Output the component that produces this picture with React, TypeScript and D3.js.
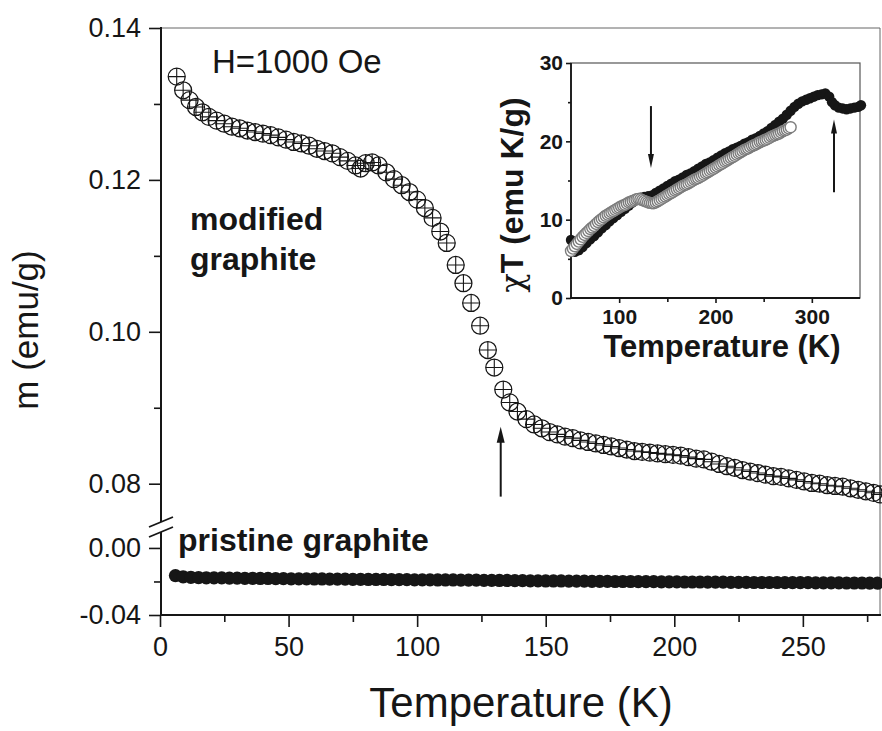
import React, { useEffect, useRef } from 'react';
import * as d3 from 'd3';

// modified graphite, m (emu/g) vs T (K)
const modifiedData: [number, number][] = [
  [6.5, 0.1336], [9, 0.1318], [11.5, 0.1305], [14, 0.1296], [16.5, 0.1289], [19, 0.1283],
  [22, 0.1278], [25, 0.1274], [28, 0.127], [31, 0.1268], [34, 0.1265], [37, 0.1263],
  [40, 0.1261], [43, 0.1259], [46, 0.1256], [49, 0.1253], [52, 0.125], [55, 0.1248],
  [58, 0.1245], [61, 0.1241], [64, 0.1238], [67, 0.1235], [70, 0.123], [73, 0.1225],
  [76, 0.1219], [78, 0.1215], [80, 0.1222], [82.5, 0.1223], [85, 0.1219], [88, 0.121],
  [91, 0.1201], [94, 0.1193], [97, 0.1184], [100, 0.1174], [103, 0.1163], [106, 0.115],
  [109, 0.1132], [111.5, 0.1117], [115, 0.1088], [118, 0.1064], [121, 0.1038], [124.5, 0.1008],
  [127.5, 0.0976], [130, 0.0953], [133.5, 0.0924], [136, 0.0907], [139, 0.0895], [142.5, 0.0885],
  [145.5, 0.0878], [148.5, 0.0873], [151.5, 0.0868], [154.5, 0.0865], [157.5, 0.0862], [160.5, 0.086],
  [163.5, 0.0857], [166.5, 0.0855], [169.5, 0.0853], [172.5, 0.0851], [175.5, 0.0849], [178.5, 0.0847],
  [181.5, 0.0845], [184.5, 0.0843], [187.5, 0.0842], [190.5, 0.0841], [193.5, 0.084], [196.5, 0.0839],
  [199.5, 0.0838], [202.5, 0.0837], [205.5, 0.0835], [208.5, 0.0833], [211.5, 0.0832], [214.5, 0.0829],
  [217.5, 0.0826], [220.5, 0.0823], [223.5, 0.0821], [226.5, 0.0818], [229.5, 0.0816], [232.5, 0.0814],
  [235.5, 0.0812], [238.5, 0.081], [241.5, 0.0809], [244.5, 0.0807], [247.5, 0.0805], [250.5, 0.0803],
  [253.5, 0.0801], [256.5, 0.08], [259.5, 0.0798], [262.5, 0.0797], [265.5, 0.0796], [268.5, 0.0794],
  [271.5, 0.0792], [274.5, 0.079], [277.5, 0.0788], [280, 0.0786],
];

// pristine graphite
const pristineData: [number, number][] = [
  [6, -0.0165], [9, -0.0172], [12, -0.0175], [15, -0.0177], [18, -0.0178], [21, -0.0179],
  [24, -0.0179], [27, -0.018], [30, -0.018], [33, -0.0181], [36, -0.0181], [39, -0.0182],
  [42, -0.0182], [45, -0.0183], [48, -0.0183], [51, -0.0184], [54, -0.0184], [57, -0.0184],
  [60, -0.0185], [63, -0.0185], [66, -0.0186], [69, -0.0186], [72, -0.0186], [75, -0.0187],
  [78, -0.0187], [81, -0.0188], [84, -0.0188], [87, -0.0188], [90, -0.0189], [93, -0.0189],
  [96, -0.0189], [99, -0.019], [102, -0.019], [105, -0.019], [108, -0.0191], [111, -0.0191],
  [114, -0.0191], [117, -0.0192], [120, -0.0192], [123, -0.0192], [126, -0.0193], [129, -0.0193],
  [132, -0.0194], [135, -0.0194], [138, -0.0195], [141, -0.0195], [144, -0.0196], [147, -0.0196],
  [150, -0.0197], [153, -0.0197], [156, -0.0197], [159, -0.0198], [162, -0.0198], [165, -0.0198],
  [168, -0.0199], [171, -0.0199], [174, -0.0199], [177, -0.02], [180, -0.02], [183, -0.02],
  [186, -0.0201], [189, -0.0201], [192, -0.0201], [195, -0.0202], [198, -0.0202], [201, -0.0202],
  [204, -0.0203], [207, -0.0203], [210, -0.0203], [213, -0.0204], [216, -0.0204], [219, -0.0204],
  [222, -0.0205], [225, -0.0205], [228, -0.0205], [231, -0.0206], [234, -0.0206], [237, -0.0206],
  [240, -0.0206], [243, -0.0207], [246, -0.0207], [249, -0.0207], [252, -0.0207], [255, -0.0208],
  [258, -0.0208], [261, -0.0208], [264, -0.0208], [267, -0.0209], [270, -0.0209], [273, -0.0209],
  [276, -0.021], [279, -0.021],
];

// inset: chi*T, open (grey) circles
const insetOpenData: [number, number][] = [
  [50, 6.0], [52, 6.3], [54, 6.6], [56, 6.9], [58, 7.2], [60, 7.5], [62, 7.8], [64, 8.05],
  [66, 8.3], [68, 8.55], [70, 8.8], [72, 9.0], [74, 9.2], [76, 9.45], [78, 9.7], [80, 9.9],
  [82, 10.1], [84, 10.3], [86, 10.5], [88, 10.65], [90, 10.8], [92, 10.95], [94, 11.1], [96, 11.25],
  [98, 11.4], [100, 11.55], [102, 11.7], [104, 11.8], [106, 11.9], [108, 12.05], [110, 12.2], [112, 12.3],
  [114, 12.4], [116, 12.5], [118, 12.6], [120, 12.65], [122, 12.6], [124, 12.5], [126, 12.4], [128, 12.3],
  [130, 12.2], [132, 12.15], [134, 12.1], [136, 12.1], [138, 12.2], [140, 12.35], [142, 12.5], [144, 12.65],
  [146, 12.8], [148, 12.95], [150, 13.1], [152, 13.25], [154, 13.4], [156, 13.55], [158, 13.7], [160, 13.85],
  [162, 14.0], [164, 14.15], [166, 14.3], [168, 14.4], [170, 14.5], [172, 14.65], [174, 14.8], [176, 14.95],
  [178, 15.1], [180, 15.2], [182, 15.3], [184, 15.45], [186, 15.6], [188, 15.75], [190, 15.9], [192, 16.05],
  [194, 16.2], [196, 16.35], [198, 16.5], [200, 16.65], [202, 16.8], [204, 16.95], [206, 17.1], [208, 17.25],
  [210, 17.4], [212, 17.55], [214, 17.7], [216, 17.85], [218, 18.0], [220, 18.15], [222, 18.3], [224, 18.45],
  [226, 18.6], [228, 18.75], [230, 18.9], [232, 19.0], [234, 19.1], [236, 19.25], [238, 19.4], [240, 19.5],
  [242, 19.6], [244, 19.75], [246, 19.9], [248, 20.0], [250, 20.1], [252, 20.2], [254, 20.3], [256, 20.45],
  [258, 20.6], [260, 20.7], [262, 20.8], [264, 20.9], [266, 21.0], [268, 21.15], [270, 21.3], [272, 21.4],
  [274, 21.5], [276, 21.65], [278, 21.8],
];

// inset: chi*T, filled black
const insetFilledData: [number, number][] = [
  [50, 7.4], [52, 6.5], [54, 5.9], [58, 6.1], [62, 6.5], [66, 7.0], [70, 7.5], [74, 7.9],
  [78, 8.4], [82, 8.9], [86, 9.3], [90, 9.8], [94, 10.2], [98, 10.6], [102, 11.0], [106, 11.4],
  [110, 11.8], [114, 12.2], [118, 12.6], [122, 12.8], [126, 12.9], [130, 13.0], [134, 13.1], [138, 13.4],
  [142, 13.7], [146, 14.0], [150, 14.3], [154, 14.6], [158, 14.9], [162, 15.1], [166, 15.4], [170, 15.7],
  [174, 15.9], [178, 16.2], [182, 16.5], [186, 16.8], [190, 17.1], [194, 17.3], [198, 17.6], [202, 17.9],
  [206, 18.2], [210, 18.5], [214, 18.7], [218, 19.0], [222, 19.2], [226, 19.4], [230, 19.7], [234, 19.9],
  [238, 20.2], [242, 20.4], [246, 20.7], [250, 21.0], [254, 21.3], [258, 21.7], [262, 22.1], [266, 22.5],
  [270, 22.9], [274, 23.4], [278, 23.9], [282, 24.4], [286, 24.8], [290, 25.1], [294, 25.3], [298, 25.5],
  [302, 25.7], [306, 25.9], [310, 26.0], [314, 26.1], [318, 25.7], [321, 25.0], [324, 24.6], [328, 24.3],
  [332, 24.2], [336, 24.1], [340, 24.2], [344, 24.3], [348, 24.4], [351, 24.6],
];

const xTicks = [0, 50, 100, 150, 200, 250];
const xMinorTicks = [25, 75, 125, 175, 225, 275];
const yTicksUpper = [0.08, 0.1, 0.12, 0.14];
const yMinorUpper = [0.09, 0.11, 0.13];
const yTicksLower = [-0.04, 0.0];
const yMinorLower = [-0.02];

const insetXTicks = [100, 200, 300];
const insetXMinor = [150, 250];
const insetYTicks = [0, 10, 20, 30];
const insetYMinor = [5, 15, 25];

// arrows: [T, tail value, tip value]
const mainArrow = [132.5, 0.0783, 0.0875];
const insetArrows = [[133, 24.5, 16.6], [323, 13.5, 22.8]];

const FONT = '"Liberation Sans", Arial, Helvetica, sans-serif';
const INK = '#161616';

const App = () => {
  const ref = useRef<SVGSVGElement | null>(null);

  useEffect(() => {
    const svg = d3.select(ref.current);
    svg.selectAll('*').remove();

    // main plot scales (broken y axis)
    const x = d3.scaleLinear().domain([0, 280]).range([160, 880]);
    const yUp = d3.scaleLinear().domain([0.0743, 0.14]).range([527, 28]);
    const yLow = d3.scaleLinear().domain([-0.04, 0.0125]).range([615, 527]);

    const styleAxis = (g: any, size: number) => {
      g.select('.domain').remove();
      g.selectAll('line').attr('stroke', INK).attr('stroke-width', 1.6);
      g.selectAll('text').attr('fill', INK).style('font-family', FONT).style('font-size', size + 'px');
    };
    const fmt = (d: any) => (+d).toFixed(2);

    // frame
    svg.append('line').attr('x1', 160).attr('x2', 880).attr('y1', 28).attr('y2', 28)
      .attr('stroke', '#666').attr('stroke-width', 1);
    svg.append('line').attr('x1', 880).attr('x2', 880).attr('y1', 28).attr('y2', 615)
      .attr('stroke', '#666').attr('stroke-width', 1);

    // y axes
    svg.append('g').attr('transform', 'translate(161,0)')
      .call(d3.axisLeft(yUp).tickValues(yTicksUpper).tickSize(12).tickPadding(8).tickFormat(fmt))
      .call((g: any) => styleAxis(g, 27));
    svg.append('g').attr('transform', 'translate(161,0)')
      .call(d3.axisLeft(yUp).tickValues(yMinorUpper).tickSize(7).tickFormat(() => ''))
      .call((g: any) => styleAxis(g, 27));
    svg.append('g').attr('transform', 'translate(161,0)')
      .call(d3.axisLeft(yLow).tickValues(yTicksLower).tickSize(12).tickPadding(8).tickFormat(fmt))
      .call((g: any) => styleAxis(g, 27));
    svg.append('g').attr('transform', 'translate(161,0)')
      .call(d3.axisLeft(yLow).tickValues(yMinorLower).tickSize(7).tickFormat(() => ''))
      .call((g: any) => styleAxis(g, 27));

    // x axis
    svg.append('g').attr('transform', 'translate(0,615)')
      .call(d3.axisBottom(x).tickValues(xTicks).tickSize(12).tickPadding(10).tickFormat(d3.format('d')))
      .call((g: any) => styleAxis(g, 27));
    svg.append('g').attr('transform', 'translate(0,615)')
      .call(d3.axisBottom(x).tickValues(xMinorTicks).tickSize(7).tickFormat(() => ''))
      .call((g: any) => styleAxis(g, 27));

    svg.append('line').attr('x1', 161).attr('x2', 161).attr('y1', 27).attr('y2', 616)
      .attr('stroke', INK).attr('stroke-width', 2);
    svg.append('line').attr('x1', 160).attr('x2', 881).attr('y1', 615).attr('y2', 615)
      .attr('stroke', INK).attr('stroke-width', 2);

    // axis break
    svg.append('path').attr('d', 'M149,527 L173,517 L173,527 L149,537 Z').attr('fill', 'white');
    svg.append('line').attr('x1', 149).attr('y1', 527).attr('x2', 173).attr('y2', 517)
      .attr('stroke', INK).attr('stroke-width', 1.8);
    svg.append('line').attr('x1', 149).attr('y1', 537).attr('x2', 173).attr('y2', 527)
      .attr('stroke', INK).attr('stroke-width', 1.8);

    // pristine graphite
    svg.append('g').selectAll('circle').data(pristineData).enter().append('circle')
      .attr('cx', d => x(d[0])).attr('cy', d => yLow(d[1])).attr('r', 6.6).attr('fill', INK);

    // modified graphite (crossed circles)
    const r = 8.5;
    const mg = svg.append('g').selectAll('g').data(modifiedData).enter().append('g')
      .attr('transform', d => `translate(${x(d[0])},${yUp(d[1])})`);
    mg.append('circle').attr('r', r).attr('fill', 'none').attr('stroke', INK).attr('stroke-width', 1.25);
    mg.append('path').attr('d', `M${-r},0H${r}M0,${-r}V${r}`).attr('stroke', INK).attr('stroke-width', 1.1);

    // arrow helper
    const arrow = (xp: number, y1: number, y2: number, w: number, len: number) => {
      const dir = y2 < y1 ? 1 : -1;
      svg.append('line').attr('x1', xp).attr('x2', xp).attr('y1', y1).attr('y2', y2 + dir * len * 0.8)
        .attr('stroke', INK).attr('stroke-width', 2);
      svg.append('path')
        .attr('d', `M${xp},${y2} L${xp - w / 2},${y2 + dir * len} L${xp + w / 2},${y2 + dir * len} Z`)
        .attr('fill', INK);
    };
    arrow(x(mainArrow[0]), yUp(mainArrow[1]), yUp(mainArrow[2]), 8, 16);

    // labels
    svg.append('text').attr('x', 212).attr('y', 73).text('H=1000 Oe')
      .style('font-family', FONT).style('font-size', '33px').attr('fill', INK);
    svg.append('text').attr('x', 190).attr('y', 230).text('modified')
      .style('font-family', FONT).style('font-size', '32px').style('font-weight', 'bold').attr('fill', INK);
    svg.append('text').attr('x', 190).attr('y', 270).text('graphite')
      .style('font-family', FONT).style('font-size', '32px').style('font-weight', 'bold').attr('fill', INK);
    svg.append('text').attr('x', 178).attr('y', 551).text('pristine graphite')
      .style('font-family', FONT).style('font-size', '32px').style('font-weight', 'bold').attr('fill', INK);

    svg.append('text').attr('transform', 'translate(38,330) rotate(-90)').attr('text-anchor', 'middle')
      .text('m (emu/g)').style('font-family', FONT).style('font-size', '35px').attr('fill', INK);
    svg.append('text').attr('x', 521).attr('y', 717).attr('text-anchor', 'middle')
      .text('Temperature (K)').style('font-family', FONT).style('font-size', '42px').attr('fill', INK);

    // ---------- inset ----------
    const xi = d3.scaleLinear().domain([50, 350]).range([571, 860]);
    const yi = d3.scaleLinear().domain([0, 30]).range([298, 63]);

    svg.append('rect').attr('x', 571).attr('y', 63).attr('width', 289).attr('height', 235)
      .attr('fill', 'none').attr('stroke', '#555').attr('stroke-width', 1.2);

    const ix = svg.append('g').attr('transform', 'translate(0,298)')
      .call(d3.axisBottom(xi).tickValues(insetXTicks).tickSize(5).tickPadding(6).tickFormat(d3.format('d')))
      .call((g: any) => styleAxis(g, 21));
    ix.selectAll('text').style('font-weight', 'bold');
    svg.append('g').attr('transform', 'translate(0,298)')
      .call(d3.axisBottom(xi).tickValues(insetXMinor).tickSize(4).tickFormat(() => ''))
      .call((g: any) => styleAxis(g, 21));
    const iy = svg.append('g').attr('transform', 'translate(571,0)')
      .call(d3.axisLeft(yi).tickValues(insetYTicks).tickSize(5).tickPadding(3).tickFormat(d3.format('d')))
      .call((g: any) => styleAxis(g, 21));
    iy.selectAll('text').style('font-weight', 'bold');
    svg.append('g').attr('transform', 'translate(571,0)')
      .call(d3.axisLeft(yi).tickValues(insetYMinor).tickSize(3).tickFormat(() => ''))
      .call((g: any) => styleAxis(g, 21));

    svg.append('line').attr('x1', 571).attr('x2', 571).attr('y1', 63).attr('y2', 299)
      .attr('stroke', INK).attr('stroke-width', 1.8);
    svg.append('line').attr('x1', 570).attr('x2', 860).attr('y1', 298).attr('y2', 298)
      .attr('stroke', INK).attr('stroke-width', 1.8);

    svg.append('g').selectAll('circle').data(insetFilledData).enter().append('circle')
      .attr('cx', d => xi(d[0])).attr('cy', d => yi(d[1])).attr('r', 5.2).attr('fill', INK);
    svg.append('g').selectAll('circle').data(insetOpenData).enter().append('circle')
      .attr('cx', d => xi(d[0])).attr('cy', d => yi(d[1])).attr('r', 5.5)
      .attr('fill', 'white').attr('stroke', '#7c7c7c').attr('stroke-width', 1.4);

    insetArrows.forEach(a => arrow(xi(a[0]), yi(a[1]), yi(a[2]), 6, 14));

    const yl = svg.append('text').attr('transform', 'translate(523,195) rotate(-90)').attr('text-anchor', 'middle')
      .style('font-family', FONT).style('font-size', '32px').style('font-weight', 'bold').attr('fill', INK);
    yl.append('tspan').text('χ').style('font-family', '"DejaVu Serif", serif').style('font-weight', 'normal');
    yl.append('tspan').text('T (emu K/g)');

    svg.append('text').attr('x', 722).attr('y', 357).attr('text-anchor', 'middle')
      .text('Temperature (K)').style('font-family', FONT).style('font-size', '31px')
      .style('font-weight', 'bold').attr('fill', INK);
  }, []);

  return (
    <svg ref={ref} width={882} height={731}
      style={{ position: 'absolute', left: 0, top: 0, background: 'white' }} />
  );
};

export default App;
